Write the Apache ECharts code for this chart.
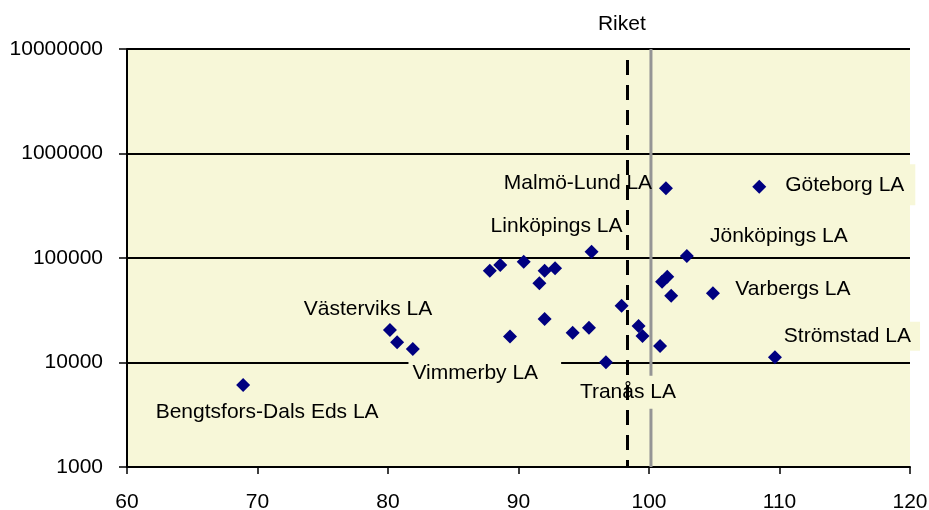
<!DOCTYPE html>
<html>
<head>
<meta charset="utf-8">
<script src="https://cdn.jsdelivr.net/npm/echarts@6/dist/echarts.min.js"></script>
<style>
  html, body { margin: 0; padding: 0; background: #ffffff; }
  #chart { width: 929px; height: 510px; }
</style>
</head>
<body>
<div id="chart"></div>
<script>
// Local labour market regions: index value (x) against population (y, log scale)
const regionNames = [
  'Bengtsfors-Dals Eds LA', 'Västerviks LA', '', 'Vimmerby LA',
  '', '', '', '', '', '',
  'Linköpings LA', 'Jönköpings LA', '', '', '', 'Varbergs LA',
  '', '', '', '', '', '', '', '',
  'Tranås LA', 'Strömstad LA', 'Malmö-Lund LA', 'Göteborg LA'
];
const indexValues = [
  68.9, 80.15, 80.7, 81.9,
  87.8, 88.6, 90.4, 92.0, 92.8, 91.6,
  95.6, 102.9, 101.0, 101.4, 101.7, 104.9,
  97.9, 92.0, 89.35, 94.15, 95.4, 99.2, 99.5, 100.85,
  96.7, 109.65, 101.3, 108.45
];
const populations = [
  6100, 20500, 15600, 13500,
  75700, 85700, 92200, 75700, 79700, 57300,
  114800, 104500, 59300, 66200, 43600, 45900,
  35000, 26100, 17700, 19300, 21500, 22400, 17900, 14400,
  10050, 11200, 464500, 480900
];

// Reference lines: the national level (Riket) and the solid grey line
const riketX = 98.3;
const refLineX = 100.15;

// Axis ranges
const xRange = [60, 120];
const xStep = 10;
const yRange = [1000, 10000000];

const plotColor = '#F7F7D8';
const fontFamily = '"Liberation Sans", Arial, sans-serif';

// Where each region name sits relative to its marker; boxed labels hide the lines behind them
const labelLayout = {
  'Bengtsfors-Dals Eds LA': { offset: [24, 27] },
  'Västerviks LA':          { offset: [-22, -21] },
  'Vimmerby LA':            { offset: [72, 24], box: [4, 23, 4, 4] },
  'Linköpings LA':          { offset: [-35, -26] },
  'Malmö-Lund LA':          { offset: [-88, -5] },
  'Göteborg LA':            { offset: [86, -2], box: [10, 11, 10, 10] },
  'Jönköpings LA':          { offset: [92, -20] },
  'Varbergs LA':            { offset: [80, -4] },
  'Strömstad LA':           { offset: [75, -21], box: [4, 9, 4, 4] },
  'Tranås LA':              { offset: [22, 30], box: [6, 6, 6, 6] }
};

const points = regionNames.map((name, i) => {
  const item = { name: name, value: [indexValues[i], populations[i]] };
  const lay = labelLayout[name];
  if (lay) {
    item.label = {
      show: true,
      formatter: name,
      offset: lay.offset,
      backgroundColor: lay.box ? plotColor : 'transparent',
      padding: lay.box || 0
    };
  }
  return item;
});

const chart = echarts.init(document.getElementById('chart'), null, { renderer: 'canvas' });

chart.setOption({
  animation: false,
  backgroundColor: '#ffffff',
  grid: {
    left: 127, right: 19, top: 49, bottom: 43,
    outerBoundsMode: 'none',
    containLabel: false,
    show: true, backgroundColor: plotColor, borderWidth: 0
  },
  xAxis: {
    type: 'value',
    min: xRange[0], max: xRange[1], interval: xStep,
    axisLine: { show: true, onZero: false, lineStyle: { color: '#000', width: 2 } },
    axisTick: { show: true, length: 7, lineStyle: { color: '#000', width: 1.5 } },
    axisLabel: { color: '#000', fontSize: 21, fontFamily: fontFamily, margin: 25 },
    splitLine: { show: false }
  },
  yAxis: {
    type: 'log', logBase: 10,
    min: yRange[0], max: yRange[1],
    axisLine: { show: true, lineStyle: { color: '#000', width: 2 } },
    axisTick: { show: true, length: 8, lineStyle: { color: '#000', width: 1.5 } },
    axisLabel: {
      color: '#000', fontSize: 21, fontFamily: fontFamily, margin: 24,
      formatter: v => String(Math.round(v))
    },
    splitLine: { show: true, lineStyle: { color: '#000', width: 2 } }
  },
  series: [
    {
      // solid grey reference line, drawn beneath the region labels
      type: 'line',
      z: 1,
      silent: true,
      symbol: 'none',
      lineStyle: { color: '#959595', width: 3 },
      data: [[refLineX, yRange[0]], [refLineX, yRange[1]]]
    },
    {
      type: 'scatter',
      z: 2,
      symbol: 'diamond',
      symbolSize: 14,
      itemStyle: { color: '#000080', opacity: 1 },
      label: {
        show: false,
        position: 'inside',
        align: 'center',
        verticalAlign: 'middle',
        color: '#000',
        fontSize: 21,
        fontFamily: fontFamily
      },
      data: points,
      markLine: {
        silent: true,
        animation: false,
        symbol: ['none', 'none'],
        lineStyle: { color: '#000', width: 3, type: [15, 10], dashOffset: 8 },
        label: {
          show: true,
          position: 'end',
          formatter: 'Riket',
          color: '#000',
          fontSize: 21,
          fontFamily: fontFamily,
          distance: 14,
          padding: [0, 10, 0, 0]
        },
        data: [{ xAxis: riketX }]
      }
    }
  ]
});
</script>
</body>
</html>
